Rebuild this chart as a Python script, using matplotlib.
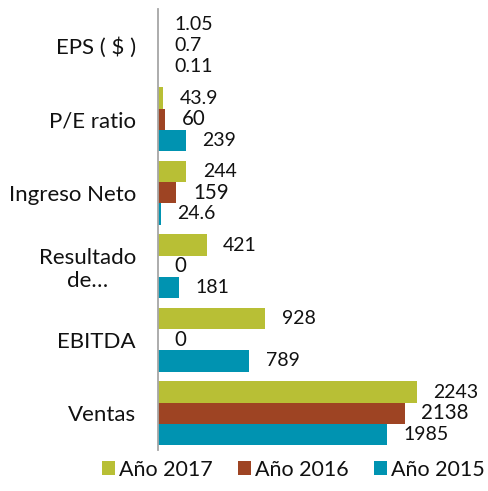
import matplotlib
matplotlib.use("Agg")
import matplotlib.pyplot as plt
import numpy as np
from matplotlib.patches import Patch

plt.rcParams['font.family'] = ['Lato', 'DejaVu Sans']

categories = ["Ventas", "EBITDA", "Resultado\nde…", "Ingreso Neto", "P/E ratio", "EPS ( $ )"]
series_names = ["Año 2017", "Año 2016", "Año 2015"]
v2017 = [2243, 928, 421, 244, 43.9, 1.05]
v2016 = [2138, 0, 0, 159, 60, 0.7]
v2015 = [1985, 789, 181, 24.6, 239, 0.11]
labels2017 = ["2243", "928", "421", "244", "43.9", "1.05"]
labels2016 = ["2138", "0", "0", "159", "60", "0.7"]
labels2015 = ["1985", "789", "181", "24.6", "239", "0.11"]

colors = ["#B8BF35", "#9E4423", "#0093B1"]

fig = plt.figure(figsize=(4.89, 4.91), dpi=100)
ax = fig.add_axes([158/489, 1 - 450/491, (481 - 158)/489, (450 - 9)/491])

y = np.arange(len(categories))
h = 0.288
series = [(v2017, labels2017, h), (v2016, labels2016, 0), (v2015, labels2015, -h)]
for si, ((vals, labs, off), c) in enumerate(zip(series, colors)):
    bars = ax.barh(y + off, vals, height=h, color=c, edgecolor='none')
    for i, (b, lab) in enumerate(zip(bars, labs)):
        fs = 14.8 if (si == 1 and i < len(categories) - 1) else 14
        ax.annotate(lab, (b.get_width(), b.get_y() + b.get_height()/2),
                    xytext=(12, 0), textcoords='offset points',
                    ha='left', va='center', fontsize=fs, color='#111111')

ax.set_xlim(0, 2800)
ax.set_ylim(-0.5, len(categories) - 0.5)
ax.set_yticks(y)
ax.set_yticklabels(categories, fontsize=16, color='#111111', multialignment='center')
ax.tick_params(axis='y', length=0, pad=16)
ax.set_xticks([])
for s in ['top', 'right', 'bottom']:
    ax.spines[s].set_visible(False)
ax.spines['left'].set_color('#A6A6A6')
ax.spines['left'].set_linewidth(1.3)

handles = [Patch(facecolor=c, edgecolor='none') for c in colors]
fig.legend(handles, series_names, loc='lower center', ncol=3,
           bbox_to_anchor=(0.6, -0.017), frameon=False, fontsize=15.5,
           handlelength=0.62, handleheight=0.62, handletextpad=0.2,
           columnspacing=1.15, labelcolor='#111111')

fig.savefig("out.png", dpi=100)
